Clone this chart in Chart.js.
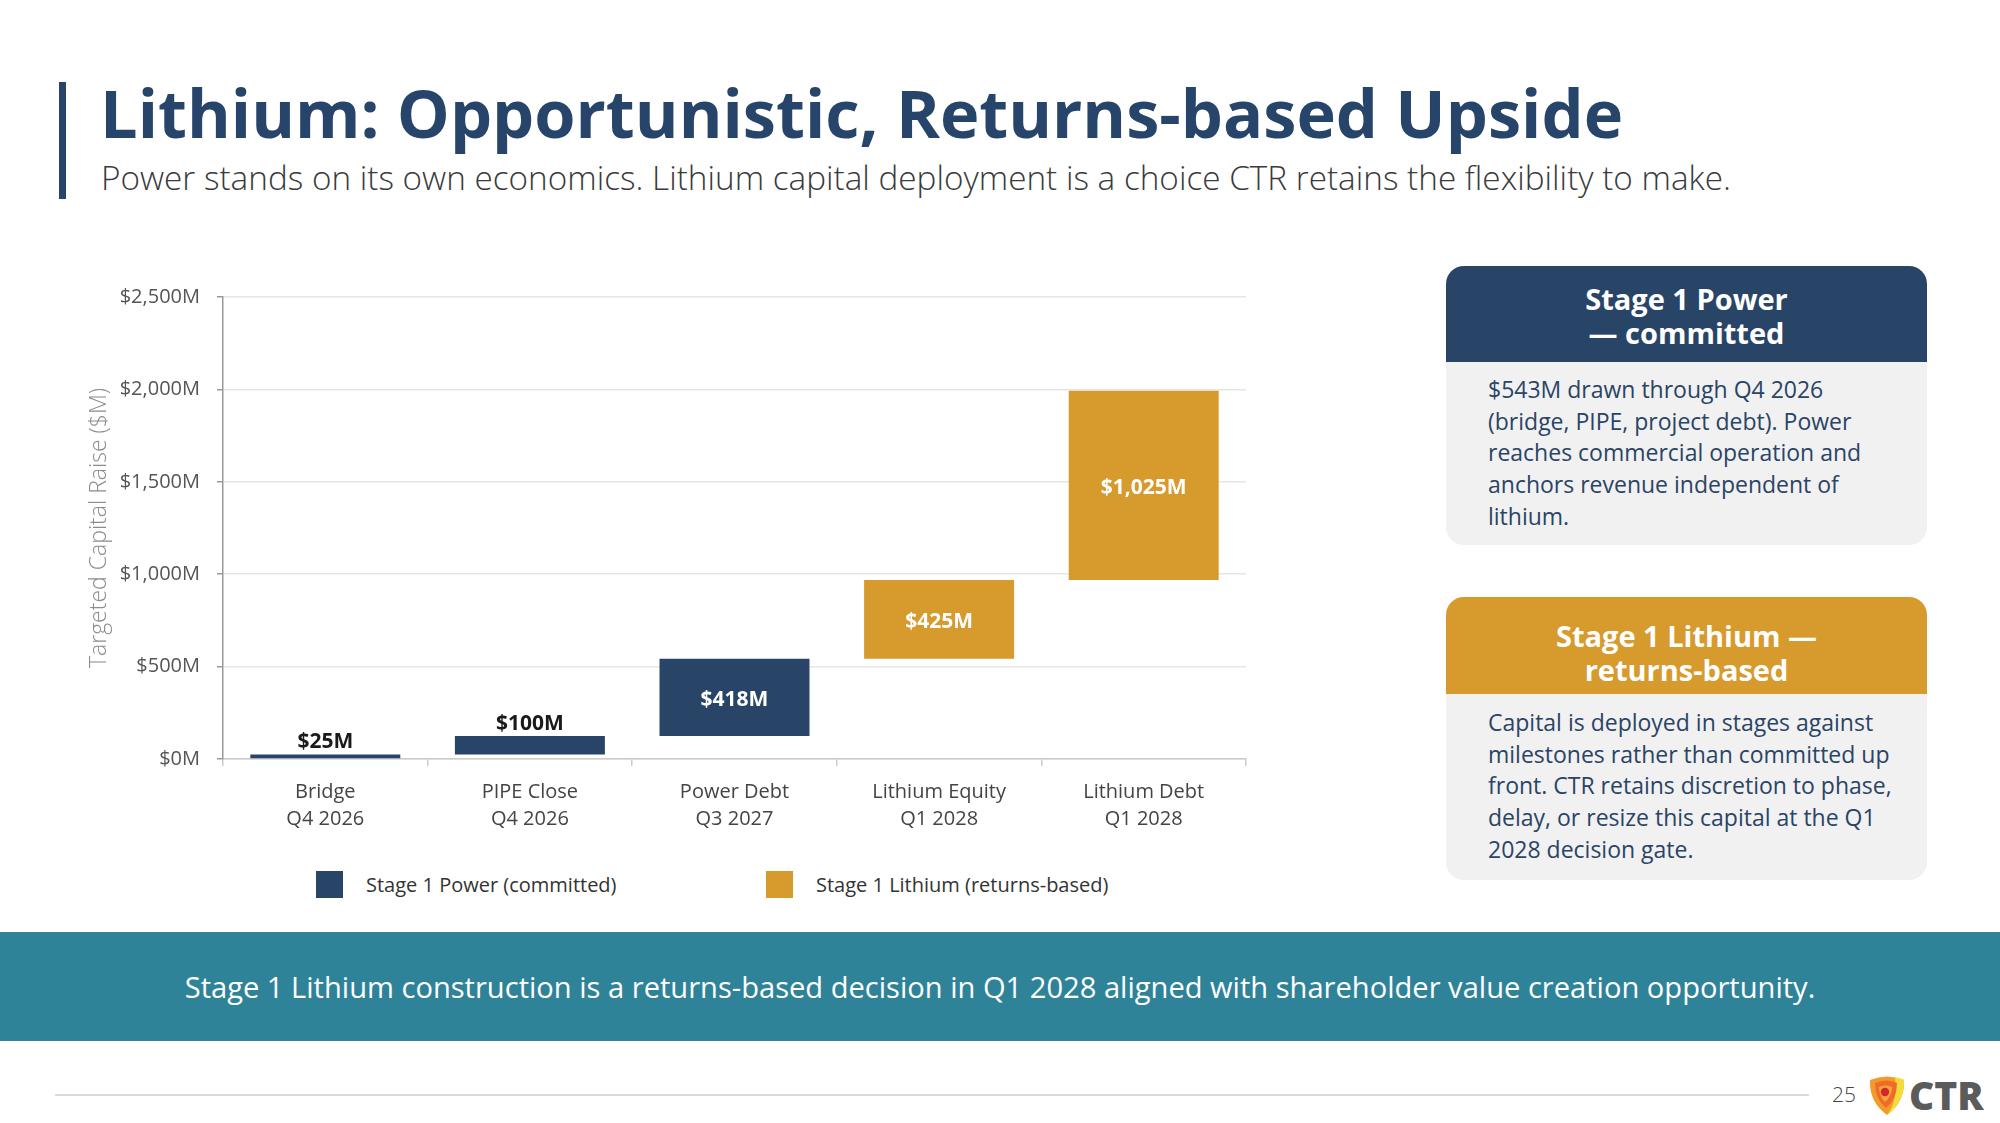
<!DOCTYPE html>
<html>
<head>
<meta charset="utf-8">
<script src="https://cdn.jsdelivr.net/npm/chart.js@4.4.1/dist/chart.umd.min.js"></script>
<style>
  html, body { margin:0; padding:0; }
  body { width:2000px; height:1123px; overflow:hidden; background:#ffffff; position:relative; font-family:'Open Sans', sans-serif; }
  .accent { position:absolute; left:59px; top:82px; width:7px; height:117px; background:#27456A; }
  .title { position:absolute; left:100px; top:80px; font-size:66.7px; line-height:1; font-weight:700; color:#27456A; white-space:nowrap; }
  .subtitle { position:absolute; left:101px; top:161px; font-size:33.3px; line-height:1; font-weight:300; color:#3a3a3a; white-space:nowrap; }
  #chartBox { position:absolute; left:0; top:260px; width:1300px; height:579px; }
  .legend { position:absolute; left:316px; top:871px; height:27px; display:flex; }
  .legend .item { width:450px; display:flex; align-items:center; height:27px; }
  .legend .box { width:27px; height:27px; flex:none; }
  .legend .txt { margin-left:23px; font-size:20px; color:#333; white-space:nowrap; }
  .card { position:absolute; left:1446px; width:481px; border-radius:18px; background:#F1F1F1; overflow:hidden; }
  .card .head { color:#fff; font-weight:700; font-size:29px; line-height:34px; text-align:center; box-sizing:border-box; }
  .card .body { padding:12px 0 0 42px; font-size:23px; line-height:31.7px; color:#2A4466; white-space:nowrap; }
  .band { position:absolute; left:0; top:932px; width:2000px; height:109px; background:#2F8399; display:flex; align-items:center; justify-content:center; color:#fff; font-size:29.1px; }
  .footline { position:absolute; left:55px; top:1094px; width:1754px; height:2px; background:#d9d9d9; }
  .pnum { position:absolute; left:1832px; top:1082px; font-size:21px; line-height:24px; color:#444; font-weight:300; }
  .logo { position:absolute; left:1868px; top:1074px; display:flex; align-items:center; }
  .logo .ctr { font-weight:800; font-size:39px; line-height:42px; color:#5B5B5B; margin-left:3px; }
</style>
</head>
<body>
<div class="accent"></div>
<div class="title">Lithium: Opportunistic, Returns-based Upside</div>
<div class="subtitle">Power stands on its own economics. Lithium capital deployment is a choice CTR retains the flexibility to make.</div>

<div id="chartBox"><canvas id="chart"></canvas></div>
<div class="legend" id="legend"></div>

<div class="card" style="top:266px;height:279px;">
  <div class="head" style="background:#284568;height:96px;padding-top:16px;">Stage 1 Power<br>— committed</div>
  <div class="body">$543M drawn through Q4 2026<br>(bridge, PIPE, project debt). Power<br>reaches commercial operation and<br>anchors revenue independent of<br>lithium.</div>
</div>
<div class="card" style="top:597px;height:283px;">
  <div class="head" style="background:#D69A2D;height:97px;padding-top:22px;">Stage 1 Lithium —<br>returns-based</div>
  <div class="body" style="padding-top:13px;">Capital is deployed in stages against<br>milestones rather than committed up<br>front. CTR retains discretion to phase,<br>delay, or resize this capital at the Q1<br>2028 decision gate.</div>
</div>

<div class="band">Stage 1 Lithium construction is a returns-based decision in Q1 2028 aligned with shareholder value creation opportunity.</div>

<div class="footline"></div>
<div class="pnum">25</div>
<div class="logo">
  <svg width="38" height="40" viewBox="0 0 38 40">
    <path d="M2,5 Q19,-2 36,5 Q37,27 19,40 Q1,27 2,5 Z" fill="#F39A2B"/>
    <path d="M27,2.2 Q32,3 36,5 Q37,27 19,40 Q30,26 27,2.2 Z" fill="#F2DC3A"/>
    <path d="M7,8 Q19,3 29,8 Q29,24 18,33 Q7,24 7,8 Z" fill="#EF6B2C"/>
    <path d="M11,12 Q18,9 24,12 Q24,21 17,27 Q11,21 11,12 Z" fill="#F7A43A"/>
    <circle cx="17" cy="17" r="4.2" fill="#D5262E"/>
  </svg>
  <div class="ctr">CTR</div>
</div>

<script>
const categories = [
  ['Bridge', 'Q4 2026'],
  ['PIPE Close', 'Q4 2026'],
  ['Power Debt', 'Q3 2027'],
  ['Lithium Equity', 'Q1 2028'],
  ['Lithium Debt', 'Q1 2028']
];
const amounts = [25, 100, 418, 425, 1025];
const stageOf = ['power', 'power', 'power', 'lithium', 'lithium'];
const seriesKeys = ['power', 'lithium'];
const seriesNames = ['Stage 1 Power (committed)', 'Stage 1 Lithium (returns-based)'];
const seriesColors = ['#284568', '#D69A2D'];
const yTickValues = [0, 500, 1000, 1500, 2000, 2500];
const yAxisTitle = 'Targeted Capital Raise ($M)';

// waterfall ranges from the step amounts
const starts = [];
const ends = [];
let running = 0;
amounts.forEach(a => { starts.push(running); running += a; ends.push(running); });

const fmt = v => '$' + v.toLocaleString('en-US') + 'M';

const datasets = seriesKeys.map((key, s) => ({
  label: seriesNames[s],
  data: categories.map((c, i) => stageOf[i] === key ? [starts[i], ends[i]] : null),
  backgroundColor: seriesColors[s],
  borderWidth: 0,
  borderSkipped: false,
  grouped: false,
  barPercentage: 0.733,
  categoryPercentage: 1.0
}));

// HTML legend built from the series arrays
const legendEl = document.getElementById('legend');
seriesNames.forEach((n, s) => {
  const it = document.createElement('div');
  it.className = 'item';
  it.innerHTML = '<div class="box" style="background:' + seriesColors[s] + '"></div><div class="txt"></div>';
  it.querySelector('.txt').textContent = n;
  legendEl.appendChild(it);
});

const barLabels = {
  id: 'barLabels',
  afterDatasetsDraw(chart) {
    const ctx = chart.ctx;
    ctx.save();
    ctx.font = "700 21px 'Open Sans'";
    ctx.textAlign = 'center';
    ctx.textBaseline = 'middle';
    chart.data.datasets.forEach((ds, di) => {
      const meta = chart.getDatasetMeta(di);
      meta.data.forEach((el, i) => {
        if (ds.data[i] == null) return;
        const top = Math.min(el.y, el.base);
        const bottom = Math.max(el.y, el.base);
        const h = bottom - top;
        const txt = fmt(amounts[i]);
        if (h > 40) {
          ctx.fillStyle = '#ffffff';
          ctx.fillText(txt, el.x, (top + bottom) / 2 + 3);
        } else {
          ctx.fillStyle = '#1a1a1a';
          ctx.fillText(txt, el.x, top - 12);
        }
      });
    });
    ctx.restore();
  }
};

Chart.defaults.font.family = "'Open Sans', sans-serif";

new Chart(document.getElementById('chart'), {
  type: 'bar',
  data: { labels: categories, datasets },
  plugins: [barLabels],
  options: {
    responsive: true,
    maintainAspectRatio: false,
    animation: false,
    devicePixelRatio: 1,
    layout: { padding: { left: 86, top: 37, right: 54, bottom: 0 } },
    plugins: { legend: { display: false }, tooltip: { enabled: false } },
    scales: {
      x: {
        offset: true,
        grid: { display: true, drawOnChartArea: false, drawTicks: true, tickLength: 7, color: '#cccccc', tickColor: '#cccccc', lineWidth: 1.5, offset: true },
        border: { display: true, color: '#cccccc', width: 1.5 },
        ticks: { color: '#444444', font: { size: 20, lineHeight: 1.35 }, padding: 13, maxRotation: 0, autoSkip: false },
        afterFit(scale) { scale.height = 80; }
      },
      y: {
        min: 0,
        max: 2500,
        afterBuildTicks(scale) { scale.ticks = yTickValues.map(v => ({ value: v })); },
        grid: { color: '#e6e6e6', lineWidth: 1.5, tickLength: 6, tickColor: '#999999' },
        border: { display: true, color: '#999999', width: 1.5 },
        ticks: { color: '#555555', font: { size: 20 }, padding: 17, callback: v => fmt(v) },
        title: { display: true, text: yAxisTitle, color: '#8c8c8c', font: { size: 23, weight: 300 }, padding: { top: 0, bottom: 0 } },
        afterFit(scale) { scale.width = 137; }
      }
    }
  }
});
</script>
</body>
</html>
